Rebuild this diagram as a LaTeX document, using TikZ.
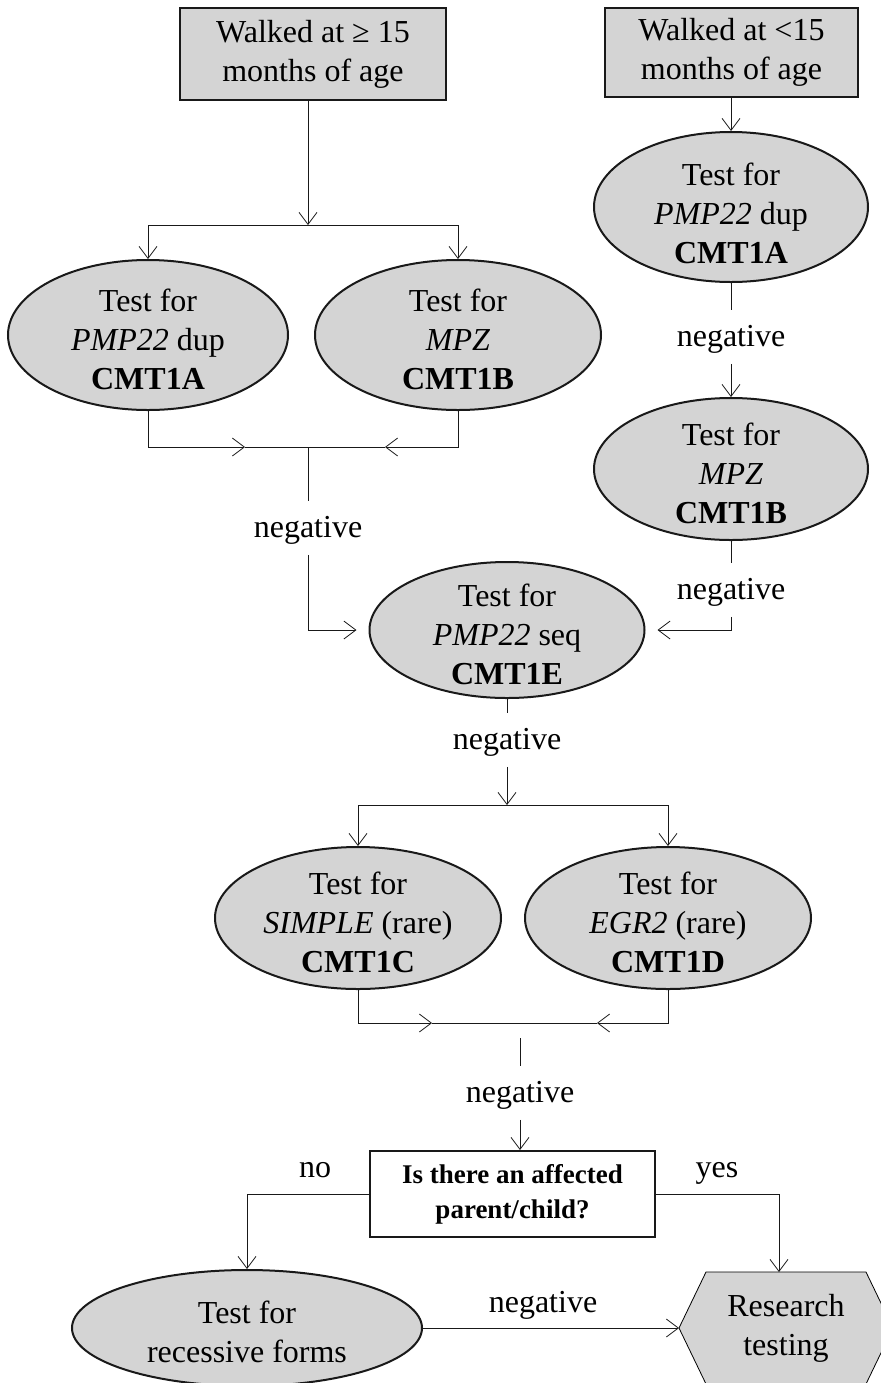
\documentclass[tikz,border=0pt]{standalone}
\usepackage{fontspec}
\setmainfont{Liberation Serif}
\usetikzlibrary{arrows.meta,shapes.geometric,calc}
\pgfdeclarelayer{bg}
\pgfsetlayers{bg,main}
\definecolor{shade}{RGB}{212,212,212}
\definecolor{ink}{RGB}{25,25,25}

\begin{document}
\begin{tikzpicture}[x=0.5pt,y=-0.5pt,line width=1pt,draw=ink,
  arr/.style={-{Straight Barb[length=6pt,width=9pt]}},
  txt/.style={font=\fontsize{16}{19.5}\selectfont,align=center,inner sep=0pt},
  oval/.style={ellipse,draw,fill=shade,inner sep=0pt},
  sqbox/.style={rectangle,draw,fill=shade,inner sep=0pt},
  lab/.style={font=\fontsize{16}{19.5}\selectfont,inner xsep=2pt,inner ysep=5pt,
              text height=13pt,text depth=3.5pt},
]
\useasboundingbox (0,0) rectangle (881,1383);

% starting conditions
\node[sqbox,txt,minimum width=133pt,minimum height=46pt] (b1) at (313,54)
  {Walked at ≥ 15\\months of age};
\node[sqbox,txt,minimum width=126.5pt,minimum height=44.5pt] (b2) at (731.5,52.5)
  {Walked at <15\\months of age};

% left branch: parallel tests
\node[oval,minimum width=140pt,minimum height=75pt] (la) at (148,335) {};
\node[txt] (la-t) at (148,339) {Test for\\\textit{PMP22} dup\\\textbf{CMT1A}};
\node[oval,minimum width=143pt,minimum height=75pt] (lb) at (458,335) {};
\node[txt] (lb-t) at (458,339) {Test for\\\textit{MPZ}\\\textbf{CMT1B}};

% right branch: sequential tests
\node[oval,minimum width=137pt,minimum height=75pt] (ra) at (731,207) {};
\node[txt] (ra-t) at (731,213) {Test for\\\textit{PMP22} dup\\\textbf{CMT1A}};
\node[oval,minimum width=137pt,minimum height=71pt] (rb) at (731,469) {};
\node[txt] (rb-t) at (731,473) {Test for\\\textit{MPZ}\\\textbf{CMT1B}};

% common steps
\node[oval,minimum width=137.5pt,minimum height=68pt] (e) at (507,630) {};
\node[txt] (e-t) at (507,634) {Test for\\\textit{PMP22} seq\\\textbf{CMT1E}};
\node[oval,minimum width=143pt,minimum height=71pt] (c) at (358,918) {};
\node[txt] (c-t) at (358,922) {Test for\\\textit{SIMPLE} (rare)\\\textbf{CMT1C}};
\node[oval,minimum width=143pt,minimum height=71pt] (d) at (668,918) {};
\node[txt] (d-t) at (668,922) {Test for\\\textit{EGR2} (rare)\\\textbf{CMT1D}};

\node[draw,fill=white,inner sep=0pt,minimum width=142.5pt,minimum height=43pt,
      align=center,font=\bfseries\fontsize{13.5}{17.5}\selectfont] (q) at (512.5,1194)
  {Is there an affected\\parent/child?};

\node[oval,minimum width=175pt,minimum height=58pt] (rec) at (247,1328) {};
\node[txt] (rec-t) at (247,1332) {Test for\\recessive forms};
\node[txt,minimum width=106pt,minimum height=55pt] (res) at (786,1328) {Research\\testing};
\begin{pgfonlayer}{bg}
  \draw[fill=shade] (res.west) -- ([xshift=13.5pt]res.north west)
    -- ([xshift=-13.5pt]res.north east) -- (res.east)
    -- ([xshift=-13.5pt]res.south east) -- ([xshift=13.5pt]res.south west) -- cycle;
\end{pgfonlayer}

% edge labels
\node[lab] (n1) at (308,528) {negative};
\node[lab] (n2) at (731,337) {negative};
\node[lab] (n3) at (731,590) {negative};
\node[lab] (n4) at (507,740) {negative};
\node[lab] (n5) at (520,1093) {negative};
\node[lab] (n6) at (543,1303) {negative};
\node[lab] (no) at (315,1168) {no};
\node[lab] (yes) at (717,1168) {yes};

% junction points
\coordinate (j1) at (308,225);
\coordinate (m1) at (308,447);
\coordinate (m1a) at (245,447);
\coordinate (m1b) at (385,447);
\coordinate (j2) at (507,805);
\coordinate (m2a) at (432,1023);
\coordinate (m2b) at (597,1023);
\coordinate (t5) at (520,1038);

% connectors: left branch
\draw[arr] (b1.south -| j1) -- (j1);
\draw[arr] (j1) -| (la.north);
\draw[arr] (j1) -| (lb.north);
\draw[arr] (la.south) |- (m1a);
\draw[arr] (lb.south) |- (m1b);
\draw (m1a) -- (m1b);
\draw (m1) -- (n1.north);
\draw[arr,shorten >=6pt] (n1.south) |- (e.west);

% connectors: right branch
\draw[arr] (b2.south -| ra.north) -- (ra.north);
\draw (ra.south) -- (n2.north);
\draw[arr] (n2.south) -- (rb.north);
\draw (rb.south) -- (n3.north);
\draw[arr,shorten >=6pt] (n3.south) |- (e.east);

% connectors: common steps
\draw (e.south) -- (n4.north);
\draw[arr] (n4.south) -- (j2);
\draw[arr] (j2) -| (c.north);
\draw[arr] (j2) -| (d.north);
\draw[arr] (c.south) |- (m2a);
\draw[arr] (d.south) |- (m2b);
\draw (m2a) -- (m2b);
\draw (t5) -- (n5.north);
\draw[arr] (n5.south) -- (n5.south |- q.north);
\draw[arr] (q.west) -| (rec.north);
\draw[arr] (q.east) -| ([xshift=-3.5pt]res.north);
\draw[arr] (rec.east) -- (res.west);
\end{tikzpicture}
\end{document}
